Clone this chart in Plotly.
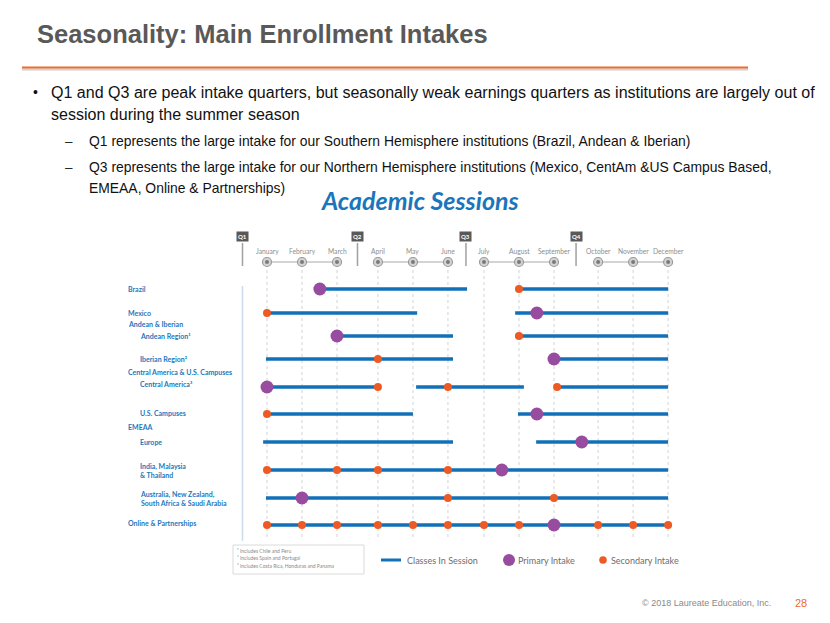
import numpy as np
import plotly.graph_objects as go

W, H = 830, 623

# ---------------- data ----------------
months = ["January", "February", "March", "April", "May", "June",
          "July", "August", "September", "October", "November", "December"]
quarters = ["Q1", "Q2", "Q3", "Q4"]

rows = ["Brazil", "Mexico", "Andean Region¹", "Iberian Region²", "Central America³",
        "U.S. Campuses", "Europe", "India, Malaysia<br>& Thailand",
        "Australia, New Zealand,<br>South Africa & Saudi Arabia", "Online & Partnerships"]

# sessions expressed in month index (0 = January ... 11 = December)
brazil_sessions = [(1.51, 5.53), (6.91, 11)]
mexico_sessions = [(0, 4.12), (6.89, 11)]
andean_sessions = [(2, 5.14), (6.89, 11)]
iberian_sessions = [(-0.03, 5.14), (8, 11)]
centam_sessions = [(0, 3), (4.09, 7.14), (8.07, 11)]
us_sessions = [(0, 4), (6.97, 11)]
europe_sessions = [(-0.11, 5.14), (7.49, 11)]
india_sessions = [(0, 11)]
australia_sessions = [(-0.03, 11)]
online_sessions = [(0, 11)]

brazil_primary = [1.51]
mexico_primary = [7.51]
andean_primary = [2]
iberian_primary = [8]
centam_primary = [0]
us_primary = [7.51]
europe_primary = [8.63]
india_primary = [6.51]
australia_primary = [1]
online_primary = [8]

brazil_secondary = [7]
mexico_secondary = [0]
andean_secondary = [7]
iberian_secondary = [3]
centam_secondary = [3, 5, 8.07]
us_secondary = [0]
europe_secondary = []
india_secondary = [0, 2, 3, 5]
australia_secondary = [5, 8]
online_secondary = [0, 1, 2, 3, 4, 5, 6, 7, 9, 10, 11]

group_headers = ["Andean & Iberian", "Central America & U.S. Campuses", "EMEAA"]
footnotes = ["¹ Includes Chile and Peru", "² Includes Spain and Portugal",
             "³ Includes Costa Rica, Honduras and Panama"]

# ---------------- layout positions ----------------
# axis position of each month (quarters separated by small gaps)
month_pos = [0, 1, 2, 3.17, 4.17, 5.17, 6.2, 7.2, 8.2, 9.46, 10.46, 11.46]
idx_ext = [-1] + list(range(12)) + [12]
pos_ext = [-1] + month_pos + [12.46]


def mp(v):
    return float(np.interp(v, idx_ext, pos_ext))


row_y = [289, 313, 336, 359, 387, 414, 442, 470, 498, 525]
label_y = [289, 313, 336, 359, 384, 413, 442, 470, 498, 523]
label_x = [125.5, 125.5, 137.5, 137.5, 137.5, 137.5, 137.5, 137.5, 137.5, 125.5]
header_y = [324, 372, 427]
quarter_div = [-0.7, 2.5, 5.5, 8.5]

sessions = [brazil_sessions, mexico_sessions, andean_sessions, iberian_sessions,
            centam_sessions, us_sessions, europe_sessions, india_sessions,
            australia_sessions, online_sessions]
primary = [brazil_primary, mexico_primary, andean_primary, iberian_primary,
           centam_primary, us_primary, europe_primary, india_primary,
           australia_primary, online_primary]
secondary = [brazil_secondary, mexico_secondary, andean_secondary, iberian_secondary,
             centam_secondary, us_secondary, europe_secondary, india_secondary,
             australia_secondary, online_secondary]

BLUE = "#1170b8"
PURPLE = "#984c9f"
ORANGE = "#ee5a24"
LABEL = "#2478bd"

fig = go.Figure()

# header month track
for q in range(4):
    xs = [month_pos[i] for i in range(q * 3, q * 3 + 3)]
    fig.add_trace(go.Scatter(x=xs, y=[262] * 3, mode="lines",
                             line=dict(color="#a8a8a8", width=1),
                             hoverinfo="skip", showlegend=False))
fig.add_trace(go.Scatter(x=month_pos, y=[262] * 12, mode="markers",
                         marker=dict(size=9, color="#d4d4d4",
                                     line=dict(color="#9a9a9a", width=1.2)),
                         hoverinfo="skip", showlegend=False))
fig.add_trace(go.Scatter(x=month_pos, y=[262] * 12, mode="markers",
                         marker=dict(size=4, color="#7a7a7a"),
                         hoverinfo="skip", showlegend=False))

# sessions
sx, sy = [], []
for segs, y in zip(sessions, row_y):
    for a, b in segs:
        sx += [mp(a), mp(b), None]
        sy += [y, y, None]
fig.add_trace(go.Scatter(x=sx, y=sy, mode="lines", line=dict(color=BLUE, width=3.5),
                         hoverinfo="skip", showlegend=False))

# secondary intakes
ox, oy = [], []
for pts, y in zip(secondary, row_y):
    for p in pts:
        ox.append(mp(p)); oy.append(y)
fig.add_trace(go.Scatter(x=ox, y=oy, mode="markers",
                         marker=dict(size=8, color=ORANGE),
                         hoverinfo="skip", showlegend=False))

# primary intakes
px_, py_ = [], []
for pts, y in zip(primary, row_y):
    for p in pts:
        px_.append(mp(p)); py_.append(y)
fig.add_trace(go.Scatter(x=px_, y=py_, mode="markers",
                         marker=dict(size=13, color=PURPLE),
                         hoverinfo="skip", showlegend=False))

shapes = []
# dotted month gridlines
for m in month_pos:
    shapes.append(dict(type="line", xref="x", yref="y", x0=m, x1=m, y0=270, y1=538,
                       line=dict(color="#d2d2d2", width=1, dash="dot"), layer="below"))
# quarter dividers
for d in quarter_div:
    shapes.append(dict(type="line", xref="x", yref="y", x0=mp(d), x1=mp(d), y0=243, y1=266,
                       line=dict(color="#a0a0a0", width=1.5)))
# left light-blue rule
shapes.append(dict(type="line", xref="x", yref="y", x0=mp(-0.7), x1=mp(-0.7), y0=286, y1=541,
                   line=dict(color="#cadcec", width=1.5)))


def P(x, y):
    return x / W, 1 - y / H


# title underline
shapes.append(dict(type="line", xref="paper", yref="paper",
                   x0=22 / W, x1=748 / W, y0=1 - 69.5 / H, y1=1 - 69.5 / H,
                   line=dict(color="#d0d0d0", width=2)))
shapes.append(dict(type="line", xref="paper", yref="paper",
                   x0=22 / W, x1=748 / W, y0=1 - 67.5 / H, y1=1 - 67.5 / H,
                   line=dict(color="#ef6a2c", width=2)))
# footnote box
shapes.append(dict(type="rect", xref="paper", yref="paper",
                   x0=233 / W, x1=364 / W, y0=1 - 574 / H, y1=1 - 545 / H,
                   line=dict(color="#dadada", width=1)))
# legend line
shapes.append(dict(type="line", xref="paper", yref="paper",
                   x0=381 / W, x1=401 / W, y0=1 - 560 / H, y1=1 - 560 / H,
                   line=dict(color=BLUE, width=3)))


def circ(cx, cy, r, color):
    return dict(type="circle", xref="paper", yref="paper",
                x0=(cx - r) / W, x1=(cx + r) / W, y0=1 - (cy + r) / H, y1=1 - (cy - r) / H,
                fillcolor=color, line=dict(width=0))


shapes.append(circ(509, 560, 6, PURPLE))
shapes.append(circ(603, 560, 3.8, ORANGE))

ann = []


def A(text, x, y, size, color, family="Liberation Sans", xanchor="left", **kw):
    xx, yy = P(x, y)
    d = dict(text=text, x=xx, y=yy, xref="paper", yref="paper", showarrow=False,
             xanchor=xanchor, yanchor="middle", align="left",
             font=dict(size=size, color=color, family=family))
    d.update(kw)
    ann.append(d)


A("<b>Seasonality: Main Enrollment Intakes</b>", 35, 34, 25.5, "#595959")
SANS = "Liberation Sans"
A("•", 31, 92, 14, "#111111")
A("Q1 and Q3 are peak intake quarters, but seasonally weak earnings quarters as institutions are largely out of",
  48.5, 92, 16.05, "#111111", SANS)
A("session during the summer season", 48.5, 114, 16.05, "#111111", SANS)
A("–", 63, 141, 13.5, "#111111", SANS)
A("Q1 represents the large intake for our Southern Hemisphere institutions (Brazil, Andean & Iberian)",
  86.5, 141, 13.9, "#111111", SANS)
A("–", 63, 167, 13.5, "#111111", SANS)
A("Q3 represents the large intake for our Northern Hemisphere institutions (Mexico, CentAm &US Campus Based,",
  86.5, 167, 13.9, "#111111", SANS)
A("EMEAA, Online & Partnerships)", 86.5, 188, 13.9, "#111111", SANS)

A("<b><i>Academic Sessions</i></b>", 420, 200, 25, "#1b75bb", "Lato", xanchor="center")

# month labels
for m, p in zip(months, month_pos):
    ann.append(dict(text=m, x=p, y=251, xref="x", yref="y", showarrow=False,
                    xanchor="center", yanchor="middle",
                    font=dict(size=6.7, color="#8e8e8e", family="Lato")))
# quarter labels
for q, d in zip(quarters, quarter_div):
    ann.append(dict(text="<b>" + q + "</b>", x=mp(d), y=236, xref="x", yref="y",
                    showarrow=False, xanchor="center", yanchor="middle",
                    bgcolor="#595959", borderpad=1,
                    font=dict(size=6, color="white", family="Lato")))

# row labels
for r, lx, ly in zip(rows, label_x, label_y):
    ann.append(dict(text="<b>" + r + "</b>", x=lx / W, y=ly, xref="paper", yref="y",
                    showarrow=False, xanchor="left", yanchor="middle", align="left",
                    font=dict(size=7, color=LABEL, family="Lato")))
for g, gy in zip(group_headers, header_y):
    ann.append(dict(text="<b>" + g + "</b>", x=125.5 / W, y=gy, xref="paper", yref="y",
                    showarrow=False, xanchor="left", yanchor="middle",
                    font=dict(size=7, color=LABEL, family="Lato")))

# footnotes
for i, f in enumerate(footnotes):
    A(f, 235, 551 + i * 7.3, 5, "#8a8a8a", "Lato")

# legend texts
A("Classes In Session", 405, 560, 9, "#6e6e6e", "Lato")
A("Primary Intake", 516, 560, 9, "#6e6e6e", "Lato")
A("Secondary Intake", 609, 560, 9, "#6e6e6e", "Lato")

# footer
A("© 2018 Laureate Education, Inc.", 640, 603, 9, "#8a8a8a")
A("28", 793, 603, 11, "#ef6a2c")

fig.update_layout(
    width=W, height=H, autosize=False,
    margin=dict(l=0, r=0, t=0, b=0),
    paper_bgcolor="white", plot_bgcolor="white",
    xaxis=dict(range=[-267 / 35, (W - 267) / 35], domain=[0, 1], visible=False,
               fixedrange=True),
    yaxis=dict(range=[H, 0], domain=[0, 1], visible=False, fixedrange=True),
    shapes=shapes, annotations=ann, showlegend=False,
)

fig.write_html("out.html", config={"displayModeBar": False},
               post_script="document.body.style.margin='0';document.body.style.overflow='hidden';")
